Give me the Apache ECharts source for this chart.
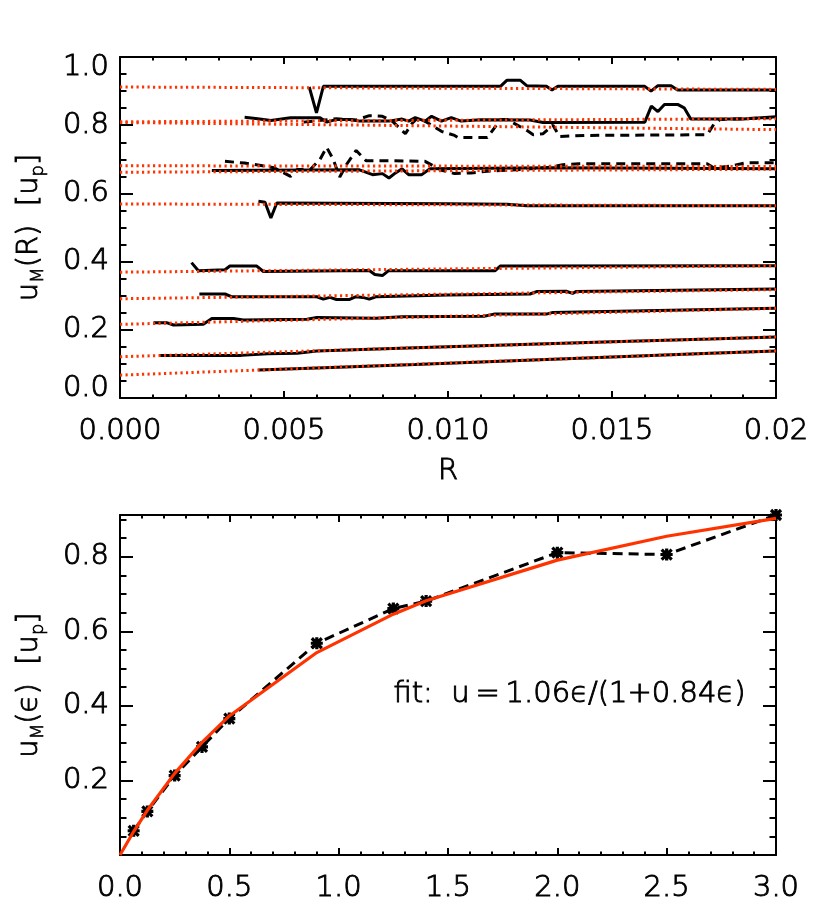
<!DOCTYPE html>
<html><head><meta charset="utf-8">
<script src="https://cdn.jsdelivr.net/npm/echarts@6/dist/echarts.min.js"></script>
<style>html,body{margin:0;padding:0;background:#fff}#c{width:830px;height:914px}</style>
</head><body><div id="c"></div>
<script>
// ---------- DATA: top panel (u_M(R) for each epsilon) ----------
const epsLabels = ['0.0625','0.125','0.25','0.375','0.5','0.9','1.25','1.4','2.0','2.5','3.0'];
const dashedCurve = [false,false,false,false,false,false,false,true,false,true,false];
const c0062 = [[0.00422,0.082],[0.006,0.088],[0.009,0.098],[0.012,0.109],[0.015,0.120],[0.018,0.131],[0.020,0.138]];
const c0125 = [[0.00122,0.125],[0.0037,0.125],[0.0045,0.130],[0.0054,0.131],[0.0060,0.138],[0.009,0.147],[0.012,0.156],[0.015,0.165],[0.018,0.173],[0.020,0.179]];
const c025 = [[0.00102,0.221],[0.00142,0.221],[0.00163,0.214],[0.00254,0.216],[0.0028,0.233],[0.00346,0.233],[0.00376,0.229],[0.0057,0.231],[0.006,0.236],[0.0078,0.234],[0.0086,0.238],[0.0111,0.240],[0.0114,0.246],[0.0130,0.246],[0.0132,0.251],[0.020,0.263]];
const c0375 = [[0.00242,0.305],[0.0032,0.305],[0.0034,0.297],[0.0060,0.297],[0.0062,0.290],[0.0064,0.295],[0.0066,0.289],[0.0070,0.289],[0.0072,0.297],[0.0074,0.295],[0.0076,0.290],[0.0078,0.297],[0.0100,0.302],[0.0125,0.305],[0.0127,0.312],[0.0136,0.313],[0.0138,0.307],[0.0139,0.312],[0.020,0.320]];
const c05 = [[0.00218,0.397],[0.00239,0.373],[0.0032,0.376],[0.00335,0.387],[0.00417,0.387],[0.00437,0.371],[0.0076,0.374],[0.00777,0.362],[0.0080,0.359],[0.00818,0.373],[0.01143,0.373],[0.01159,0.387],[0.020,0.388]];
const c09 = [[0.00422,0.577],[0.00442,0.574],[0.0046,0.528],[0.00478,0.572],[0.0100,0.570],[0.0118,0.568],[0.0124,0.564],[0.020,0.564]];
const c125 = [[0.0028,0.667],[0.0073,0.669],[0.0077,0.655],[0.0080,0.658],[0.0082,0.645],[0.0084,0.660],[0.0086,0.672],[0.0088,0.655],[0.0092,0.655],[0.00945,0.672],[0.0131,0.675],[0.020,0.672]];
const c14 = [[0.0032,0.694],[0.0038,0.689],[0.0043,0.682],[0.0047,0.675],[0.0052,0.650],[0.0054,0.670],[0.0058,0.670],[0.0061,0.700],[0.0063,0.735],[0.0065,0.700],[0.0067,0.648],[0.0069,0.684],[0.0072,0.726],[0.0075,0.696],[0.0080,0.696],[0.0093,0.694],[0.0098,0.668],[0.0102,0.658],[0.0107,0.660],[0.0112,0.665],[0.0118,0.668],[0.0130,0.675],[0.0135,0.684],[0.0140,0.687],[0.0179,0.687],[0.0181,0.675],[0.0186,0.680],[0.0191,0.690],[0.020,0.690]];
const c20 = [[0.0038,0.823],[0.0042,0.819],[0.0046,0.814],[0.0052,0.822],[0.0061,0.822],[0.0063,0.809],[0.0066,0.817],[0.0070,0.817],[0.0073,0.812],[0.0082,0.812],[0.0086,0.818],[0.0088,0.812],[0.0090,0.822],[0.0093,0.812],[0.0095,0.826],[0.0098,0.812],[0.0101,0.822],[0.0104,0.812],[0.0110,0.816],[0.0125,0.815],[0.0129,0.808],[0.0160,0.809],[0.0162,0.856],[0.0164,0.840],[0.0166,0.861],[0.0170,0.861],[0.0172,0.851],[0.0174,0.818],[0.0190,0.818],[0.020,0.825]];
const c25 = [[0.0056,0.809],[0.0066,0.819],[0.0072,0.815],[0.0076,0.828],[0.0080,0.826],[0.0083,0.812],[0.0087,0.775],[0.0089,0.805],[0.0091,0.823],[0.0095,0.800],[0.0098,0.782],[0.0102,0.770],[0.0103,0.764],[0.0112,0.764],[0.0114,0.790],[0.0116,0.817],[0.0118,0.817],[0.0124,0.785],[0.0126,0.772],[0.0129,0.775],[0.0132,0.800],[0.0134,0.767],[0.0142,0.770],[0.0179,0.772],[0.0181,0.802],[0.0183,0.817],[0.020,0.822]];
const c30 = [[0.00577,0.912],[0.00599,0.836],[0.0062,0.914],[0.0116,0.914],[0.0118,0.932],[0.0122,0.932],[0.0124,0.916],[0.0130,0.914],[0.01317,0.903],[0.01335,0.914],[0.0160,0.914],[0.01619,0.900],[0.0164,0.916],[0.0168,0.916],[0.0170,0.903],[0.020,0.903]];
const topCurves = [c0062,c0125,c025,c0375,c05,c09,c125,c14,c20,c25,c30];
// linear fits (red dotted): value at R = 0 and at R = 0.02
const fitR = [0, 0.02];
const fitAtR0  = [0.067,0.121,0.216,0.291,0.369,0.569,0.662,0.681,0.810,0.808,0.912];
const fitAtR02 = [0.138,0.179,0.263,0.318,0.388,0.564,0.671,0.679,0.819,0.787,0.905];

// ---------- DATA: bottom panel ----------
const epsVals = [0.0625,0.125,0.25,0.375,0.5,0.9,1.25,1.4,2.0,2.5,3.0];
const uMVals  = [0.065,0.117,0.213,0.290,0.366,0.568,0.661,0.681,0.811,0.806,0.912];
const fitEps  = [0,0.0625,0.125,0.25,0.375,0.5,0.9,1.25,1.4,2.0,2.5,3.0];
const fitVals = [0,0.063,0.120,0.219,0.302,0.373,0.543,0.646,0.682,0.791,0.855,0.903];

// ---------- tick labels ----------
const topXLabels = ['0.000','0.005','0.010','0.015','0.02'];
const topYLabels = ['0.0','0.2','0.4','0.6','0.8','1.0'];
const botXLabels = ['0.0','0.5','1.0','1.5','2.0','2.5','3.0'];
const botYLabels = ['','0.2','0.4','0.6','0.8'];

const FONT = 'DejaVu Sans';
const FW = 200;
const TB = 0.9;   // thin outline to give the light face a bit more weight
const RED = '#ff3300';
const FS = 29;
const txt = {fontFamily: FONT, fontWeight: FW, color: '#000', textBorderColor: '#000', textBorderWidth: TB};

function labelFmt(min, step, labels) {
  return function (v) {
    const i = Math.round((v - min) / step);
    if (Math.abs(min + i * step - v) > 1e-9) return '';
    return labels[i] !== undefined ? labels[i] : '';
  };
}

function axesFor(dim, grid, min, max, major, minor, labels, labelExtra, nameExtra) {
  const sides = dim === 'x' ? ['bottom', 'top'] : ['left', 'right'];
  const majLen = dim === 'x' ? 7 : 13, minLen = dim === 'x' ? 3.5 : 6.5;
  const out = [];
  sides.forEach(function (side, si) {
    [[major, majLen], [minor, minLen]].forEach(function (pair, k) {
      const main = si === 0 && k === 0;
      const ax = {
        type: 'value', gridIndex: grid, min: min, max: max, interval: pair[0], position: side,
        axisLine: {show: k === 0, onZero: false, lineStyle: {color: '#000', width: 2}},
        axisTick: {show: true, inside: true, length: pair[1], lineStyle: {color: '#000', width: 2}},
        axisLabel: {show: false},
        splitLine: {show: false}, minorTick: {show: false}, minorSplitLine: {show: false},
        axisPointer: {show: false}
      };
      if (main) {
        ax.axisLabel = Object.assign({
          show: true, fontSize: FS,
          formatter: labelFmt(min, major, labels), showMinLabel: true, showMaxLabel: true,
          hideOverlap: false
        }, txt, labelExtra || {});
        Object.assign(ax, nameExtra || {});
      }
      out.push(ax);
    });
  });
  return out;
}

const nameStyle = Object.assign({fontSize: FS}, txt, {
  rich: {
    t: Object.assign({fontSize: FS, lineHeight: 36}, txt),
    s: Object.assign({fontSize: 18, verticalAlign: 'bottom', lineHeight: 36}, txt, {textBorderWidth: 0.7})
  }
});

const xAxes = []
  .concat(axesFor('x', 0, 0, 0.02, 0.005, 0.001, topXLabels, {margin: 19},
    {name: 'R', nameLocation: 'middle', nameGap: 59, nameTextStyle: Object.assign({fontSize: FS}, txt)}))
  .concat(axesFor('x', 1, 0, 3, 0.5, 0.1, botXLabels, {margin: 19}, {}));
const yAxes = []
  .concat(axesFor('y', 0, 0, 1, 0.2, 0.05, topYLabels,
    {margin: 11, lineHeight: 20, verticalAlignMinLabel: 'bottom', verticalAlignMaxLabel: 'top'},
    {name: '{t|u}{s|M}{t|(R)  [u}{s|p}{t|]}', nameLocation: 'middle', nameRotate: 90, nameGap: 73,
     nameMoveOverlap: false, nameTextStyle: nameStyle}))
  .concat(axesFor('y', 1, 0, 0.912, 0.2, 0.05, botYLabels, {margin: 11},
    {name: '{t|u}{s|M}{t|(ϵ)  [u}{s|p}{t|]}', nameLocation: 'middle', nameRotate: 90, nameGap: 73,
     nameMoveOverlap: false, nameTextStyle: nameStyle}));

const series = [];
topCurves.forEach(function (c, i) {
  series.push({
    type: 'line', xAxisIndex: 0, yAxisIndex: 0, data: c, name: 'eps ' + epsLabels[i],
    showSymbol: false, symbol: 'none', z: 2, silent: true,
    lineStyle: {color: '#000', width: 3, type: dashedCurve[i] ? [9, 6] : 'solid'}
  });
});
topCurves.forEach(function (c, i) {
  series.push({
    type: 'line', xAxisIndex: 0, yAxisIndex: 0, name: 'fit ' + epsLabels[i],
    data: [[fitR[0], fitAtR0[i]], [fitR[1], fitAtR02[i]]],
    showSymbol: false, symbol: 'none', z: 3, silent: true,
    lineStyle: {color: RED, width: 3, type: [2.2, 3.3], cap: 'butt'}
  });
});
series.push({
  type: 'line', xAxisIndex: 4, yAxisIndex: 4, name: 'uM',
  data: epsVals.map(function (e, i) { return [e, uMVals[i]]; }),
  symbol: 'path://M0,0L10,10M10,0L0,10M5,-1L5,11M-1,5L11,5', symbolSize: 12, showSymbol: true,
  itemStyle: {color: '#000', borderColor: '#000', borderWidth: 3.2},
  lineStyle: {color: '#000', width: 3, type: [10, 6]}, z: 2, silent: true
});
series.push({
  type: 'line', xAxisIndex: 4, yAxisIndex: 4, name: 'fit',
  data: fitEps.map(function (e, i) { return [e, fitVals[i]]; }),
  showSymbol: false, symbol: 'none', z: 3, silent: true,
  lineStyle: {color: RED, width: 3.2}
});

const chart = echarts.init(document.getElementById('c'), null, {renderer: 'canvas'});
chart.setOption({
  animation: false,
  backgroundColor: '#fff',
  grid: [
    {left: 120, top: 57, width: 656, height: 341, containLabel: false, outerBoundsMode: 'none'},
    {left: 120, top: 515, width: 656, height: 340, containLabel: false, outerBoundsMode: 'none'}
  ],
  xAxis: xAxes,
  yAxis: yAxes,
  graphic: [{
    type: 'text', left: 393, top: 680,
    style: {text: 'fit:  u\u2009=\u20091.06ϵ/(1+0.84ϵ)', fontFamily: FONT, fontWeight: FW, fontSize: FS,
            fill: '#000', stroke: '#000', lineWidth: TB}
  }],
  series: series
});
</script></body></html>
